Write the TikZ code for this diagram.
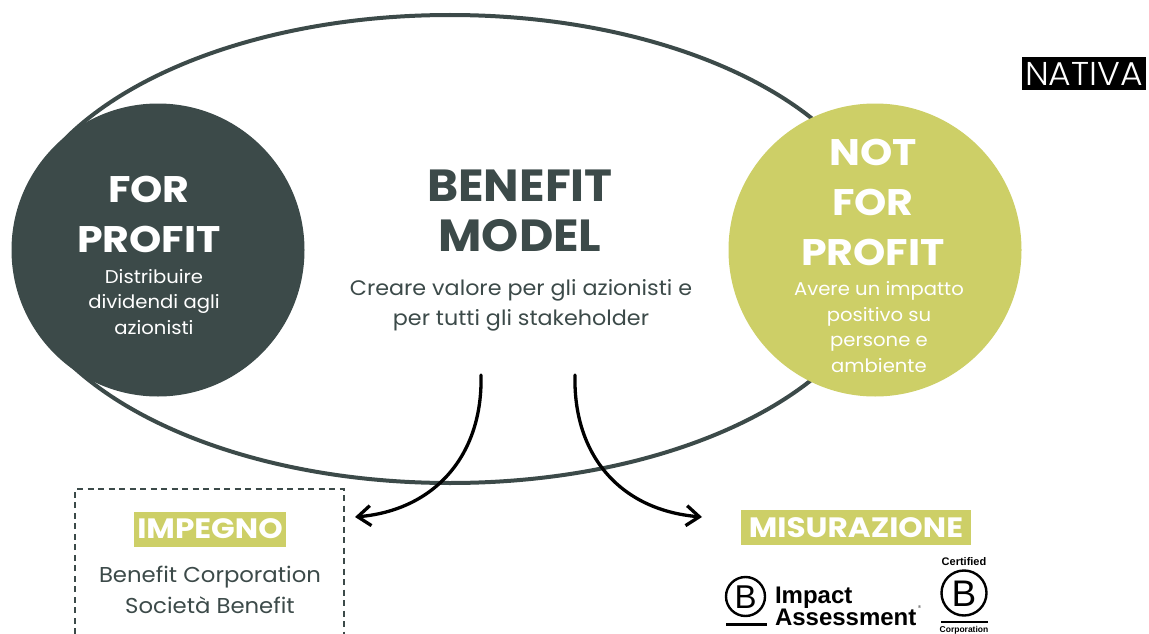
\documentclass[tikz,border=0pt]{standalone}
\usepackage{fontspec}
\setmainfont{Poppins}
\newfontfamily\bodyf[FakeStretch=1.06]{Poppins}
\newfontfamily\headf[FakeStretch=1.11]{Poppins Bold}
\newfontfamily\titlef[FakeStretch=1.05]{Poppins Bold}
\newfontfamily\natf[FakeStretch=1.05]{Poppins Light}
\newfontfamily\logof{Liberation Sans}
\usetikzlibrary{arrows.meta}
\definecolor{darkc}{HTML}{3C4A49}
\definecolor{greenc}{HTML}{CDCF67}
\tikzset{
  every node/.style={inner sep=0pt,outer sep=0pt},
  bigcirc/.style={circle,minimum size=293pt},
  head/.style={font=\headf\fontsize{37}{50}\selectfont,align=center,white},
  sub/.style={font=\bodyf\fontsize{18.500}{25.500}\selectfont,align=center,white},
  body/.style={font=\bodyf\fontsize{21}{30}\selectfont,align=center,darkc},
  tag/.style={fill=greenc,text=white,font=\headf\fontsize{28}{30}\selectfont,minimum height=35pt,anchor=center},
  curvearrow/.style={line width=3.300pt,black,line cap=round,-{Straight Barb[length=13pt,width=20pt,line width=3.300pt]}},
  lmark/.style={draw=black,line width=2.400pt,circle},
  lbar/.style={draw=black,line width=2.200pt}
}
\begin{document}
\begin{tikzpicture}[x=1pt,y=-1pt]
\useasboundingbox (0,0) rectangle (1149,634);
\draw[darkc,line width=4pt] (450,249) ellipse [x radius=436,y radius=234];
\node[bigcirc,fill=darkc] (forp) at (158,250) {};
\node[bigcirc,fill=greenc] (notp) at (875,250) {};
\node[head] (forh) at (149,214) {FOR\\PROFIT};
\node[sub] (fors) at (154,302) {Distribuire\\dividendi agli\\azionisti};
\node[head] (noth) at (873,202) {NOT\\FOR\\PROFIT};
\node[sub] (nots) at (879,327) {Avere un impatto\\positivo su\\persone e\\ambiente};
\node[font=\titlef\fontsize{45}{50}\selectfont,align=center,darkc] (bm) at (520,211) {BENEFIT\\MODEL};
\node[body] (cv) at (521,305) {Creare valore per gli azionisti e\\per tutti gli stakeholder};
\node[fill=black,text=white,font=\natf\fontsize{33}{33}\selectfont,minimum width=124pt,minimum height=33pt] (nat) at (1084,73.500) {NATIVA};
\coordinate (a1) at (481,375);
\coordinate (a2) at (355,517);
\coordinate (b1) at (575,375);
\coordinate (b2) at (702,517);
\draw[curvearrow] (a1) .. controls (483,455) and (435,510) .. (a2);
\draw[curvearrow] (b1) .. controls (573,455) and (620,510) .. (b2);
\coordinate (d1) at (75,634);
\coordinate (d2) at (75,489);
\coordinate (d3) at (344,489);
\coordinate (d4) at (344,634);
\draw[darkc,line width=1.200pt,dash pattern=on 6pt off 4.500pt] (d1) -- (d2) -- (d3) -- (d4);
\node[tag,minimum width=152pt] (imp) at (210,529) {IMPEGNO};
\node[font=\bodyf\fontsize{21.500}{31}\selectfont,align=center,darkc] (bc) at (210,590) {Benefit Corporation\\Società Benefit};
\node[tag,minimum width=230pt] (mis) at (856,527.500) {MISURAZIONE};
\node[lmark,minimum size=39pt] (b1c) at (745.500,596.500) {};
\node[font=\logof\fontsize{33}{33}\selectfont] (b1t) at (745.500,597) {B};
\coordinate (bl1) at (726,624.500);
\coordinate (bl2) at (767,624.500);
\draw[lbar] (bl1) -- (bl2);
\node[font=\logof\bfseries\fontsize{24}{21.500}\selectfont,align=left,anchor=west,black] (iat) at (775,606.500) {Impact\\Assessment};
\node[font=\logof\fontsize{4}{4}\selectfont,black] (reg) at (919.500,607) {®};
\node[font=\logof\bfseries\fontsize{11}{11}\selectfont,black] (cert) at (964,561.500) {Certified};
\node[lmark,minimum size=45pt] (b2c) at (964,593) {};
\node[font=\logof\fontsize{37}{37}\selectfont] (b2t) at (964,593.500) {B};
\coordinate (cl1) at (941,622);
\coordinate (cl2) at (988,622);
\draw[lbar] (cl1) -- (cl2);
\node[font=\logof\bfseries\fontsize{8.500}{9}\selectfont,black] (corp) at (964,630.500) {Corporation};
\end{tikzpicture}
\end{document}
